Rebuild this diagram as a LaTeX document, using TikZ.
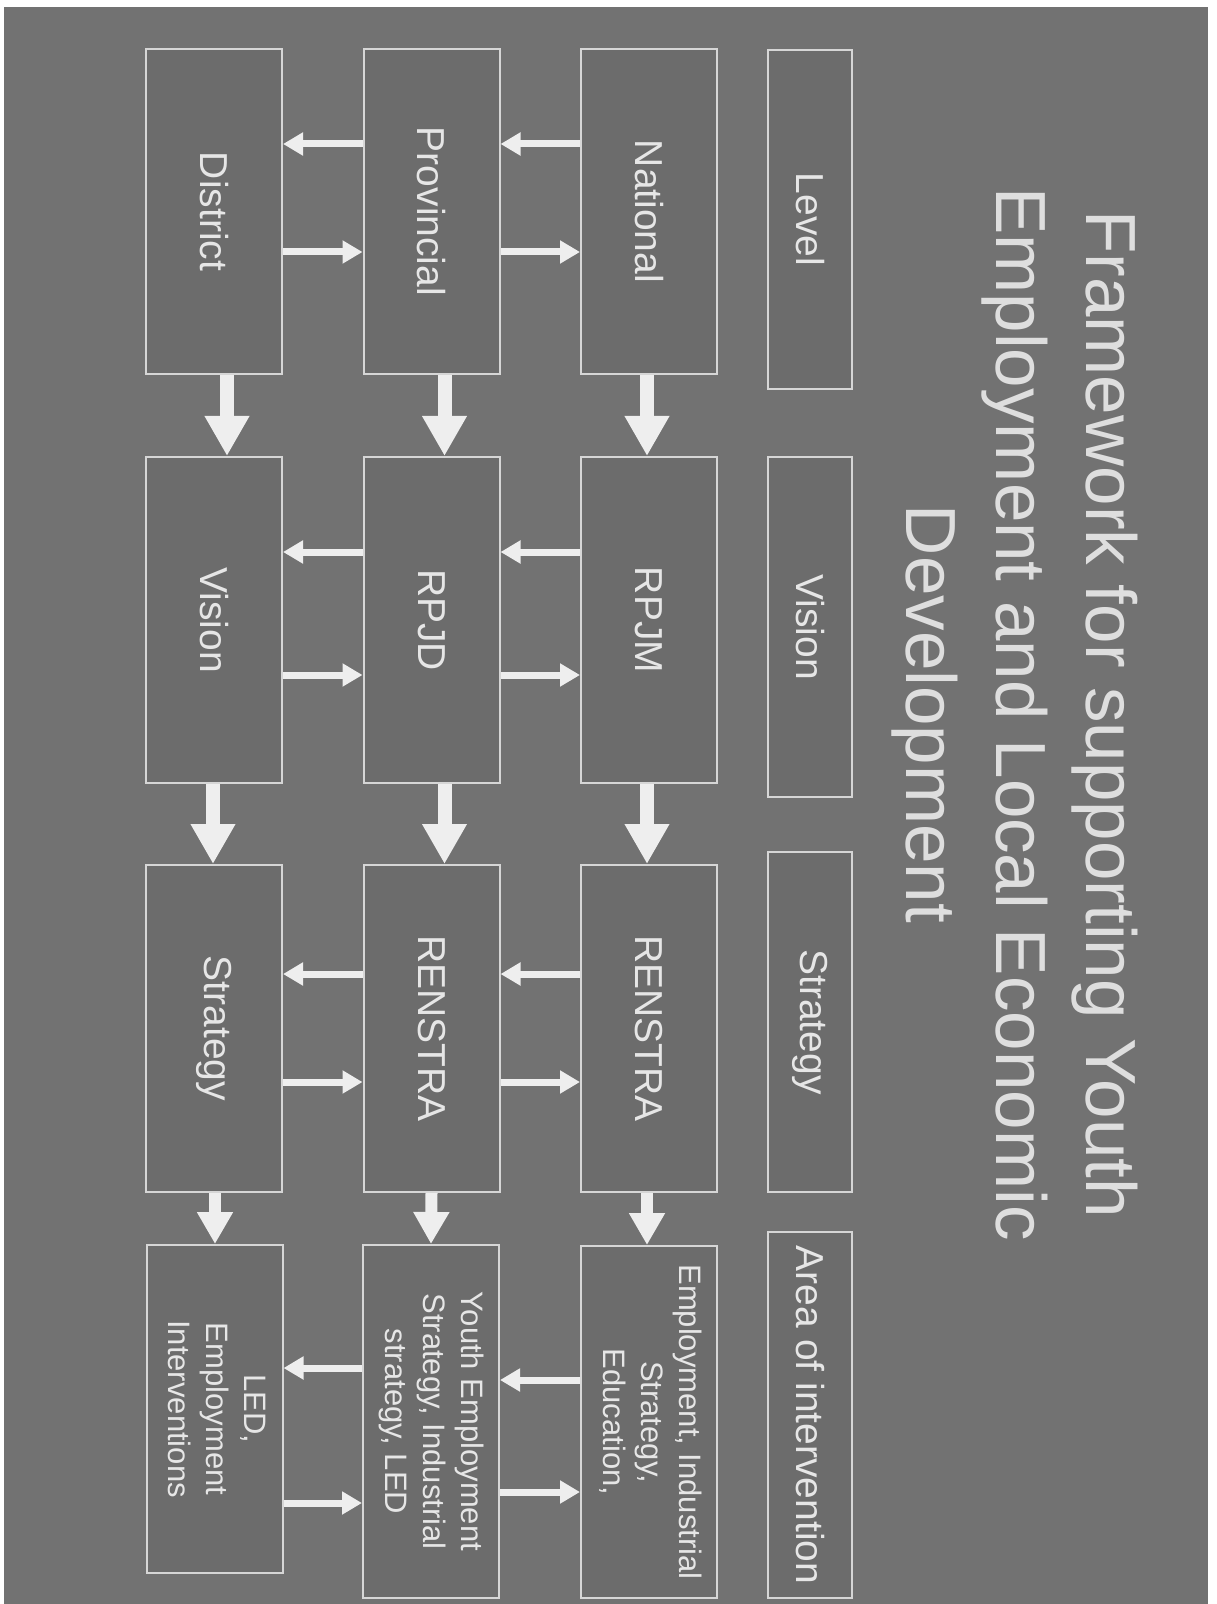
\documentclass[tikz,border=0pt]{standalone}
\usepackage{fontspec}
\setmainfont{Liberation Sans}
\usepackage{graphicx}
\usetikzlibrary{arrows.meta,calc}

\definecolor{slidebg}{RGB}{114,114,114}
\definecolor{boxfill}{RGB}{108,108,108}
\definecolor{boxline}{RGB}{214,214,214}
\definecolor{boxtext}{RGB}{230,230,230}
\definecolor{titletext}{RGB}{222,222,222}
\definecolor{arrowfill}{RGB}{238,238,238}

% text of a box, turned to read downwards
\newcommand{\sidetext}[1]{\rotatebox{-90}{#1}}
\newcommand{\sidelines}[1]{\rotatebox{-90}{\begin{tabular}{@{}c@{}}#1\end{tabular}}}

\begin{document}
\begin{tikzpicture}[x=0.5pt,y=-0.5pt,
    box/.style={draw=boxline, fill=boxfill, line width=1pt, inner sep=0pt,
      minimum width=68pt, minimum height=162.5pt, text=boxtext,
      font=\fontsize{19.5}{23}\selectfont},
    head/.style={box, minimum width=42pt},
    small/.style={font=\fontsize{15.5}{19}\selectfont},
    bigarrow/.style={draw=arrowfill, line width=7pt,
      -{Triangle[length=20pt,width=21pt]}},
    midarrow/.style={draw=arrowfill, line width=6pt,
      -{Triangle[length=16pt,width=17pt]}},
    thinarrow/.style={draw=arrowfill, line width=3.5pt,
      -{Triangle[length=10pt,width=11pt]}}]
  \useasboundingbox (0,0) rectangle (1216,1604);
  \fill[white] (0,0) rectangle (1216,1604);
  \fill[slidebg] (4,7) rectangle (1208,1604);

  %% title, turned like the rest of the slide
  \node[rotate=-90, align=center, inner sep=0pt, text=titletext,
        font=\fontsize{35.5}{45}\selectfont] (title) at (1015,714)
        {Framework for supporting Youth\\Employment and Local Economic\\Development};

  %% heading column
  \node[head, minimum height=169.5pt] (level)    at (810,219.5) {\sidetext{Level}};
  \node[head, minimum height=170pt]   (vision)   at (810,627)   {\sidetext{Vision}};
  \node[head, minimum height=170pt]   (strategy) at (810,1022)  {\sidetext{Strategy}};
  \node[head, minimum height=183pt]   (area)     at (810,1415)  {\sidetext{Area of intervention}};

  %% levels
  \node[box] (national)   at (649,211.5)   {\sidetext{National}};
  \node[box] (provincial) at (431.5,211.5) {\sidetext{Provincial}};
  \node[box] (district)   at (214,211.5)   {\sidetext{District}};

  \node[box, minimum height=163pt] (rpjm)    at (649,620)   {\sidetext{RPJM}};
  \node[box, minimum height=163pt] (rpjd)    at (431.5,620) {\sidetext{RPJD}};
  \node[box, minimum height=163pt] (visiond) at (214,620)   {\sidetext{Vision}};

  \node[box, minimum height=163.5pt] (renstran)  at (649,1028.5)   {\sidetext{RENSTRA}};
  \node[box, minimum height=163.5pt] (renstrap)  at (431.5,1028.5) {\sidetext{RENSTRA}};
  \node[box, minimum height=163.5pt] (strategyd) at (214,1028.5)   {\sidetext{Strategy}};

  \node[box, small, minimum height=176pt]   (arean) at (649,1422)
    {\sidelines{Employment, Industrial\\Strategy,\\Education,}};
  \node[box, small, minimum height=176.5pt] (areap) at (431,1421.5)
    {\sidelines{Youth Employment\\Strategy, Industrial\\strategy, LED}};
  \node[box, small, minimum height=164pt]   (aread) at (214.5,1409)
    {\sidelines{LED,\\Employment\\Interventions}};

  %% downward arrows
  \draw[bigarrow] ($(national.south)+(-2,0)$)   -- ($(rpjm.north)+(-2,0)$);
  \draw[bigarrow] ($(provincial.south)+(13,0)$) -- ($(rpjd.north)+(13,0)$);
  \draw[bigarrow] ($(district.south)+(13,0)$)   -- ($(visiond.north)+(13,0)$);
  \draw[bigarrow] ($(rpjm.south)+(-2,0)$)       -- ($(renstran.north)+(-2,0)$);
  \draw[bigarrow] ($(rpjd.south)+(13,0)$)       -- ($(renstrap.north)+(13,0)$);
  \draw[bigarrow] ($(visiond.south)+(-1,0)$)    -- ($(strategyd.north)+(-1,0)$);
  \draw[midarrow] ($(renstran.south)+(-2,0)$)   -- ($(arean.north)+(-2,0)$);
  \draw[midarrow] (renstrap.south)              -- (areap.north);
  \draw[midarrow] ($(strategyd.south)+(1,0)$)   -- ($(aread.north)+(0.5,0)$);

  %% arrows between levels
  \draw[thinarrow] ($(national.west)+(0,-67.5)$)  -- ($(provincial.east)+(0,-67.5)$);
  \draw[thinarrow] ($(provincial.east)+(0,40.5)$) -- ($(national.west)+(0,40.5)$);
  \draw[thinarrow] ($(provincial.west)+(0,-67.5)$) -- ($(district.east)+(0,-67.5)$);
  \draw[thinarrow] ($(district.east)+(0,40.5)$)   -- ($(provincial.west)+(0,40.5)$);

  \draw[thinarrow] ($(rpjm.west)+(0,-68)$)   -- ($(rpjd.east)+(0,-68)$);
  \draw[thinarrow] ($(rpjd.east)+(0,55)$)    -- ($(rpjm.west)+(0,55)$);
  \draw[thinarrow] ($(rpjd.west)+(0,-68)$)   -- ($(visiond.east)+(0,-68)$);
  \draw[thinarrow] ($(visiond.east)+(0,55)$) -- ($(rpjd.west)+(0,55)$);

  \draw[thinarrow] ($(renstran.west)+(0,-54.5)$)  -- ($(renstrap.east)+(0,-54.5)$);
  \draw[thinarrow] ($(renstrap.east)+(0,53.5)$)   -- ($(renstran.west)+(0,53.5)$);
  \draw[thinarrow] ($(renstrap.west)+(0,-54.5)$)  -- ($(strategyd.east)+(0,-54.5)$);
  \draw[thinarrow] ($(strategyd.east)+(0,53.5)$)  -- ($(renstrap.west)+(0,53.5)$);

  \draw[thinarrow] ($(arean.west)+(0,-42)$)  -- ($(areap.east)+(0,-41.5)$);
  \draw[thinarrow] ($(areap.east)+(0,70.5)$) -- ($(arean.west)+(0,70)$);
  \draw[thinarrow] ($(areap.west)+(0,-53.5)$) -- ($(aread.east)+(0,-41)$);
  \draw[thinarrow] ($(aread.east)+(0,94)$)   -- ($(areap.west)+(0,81.5)$);
\end{tikzpicture}
\end{document}
